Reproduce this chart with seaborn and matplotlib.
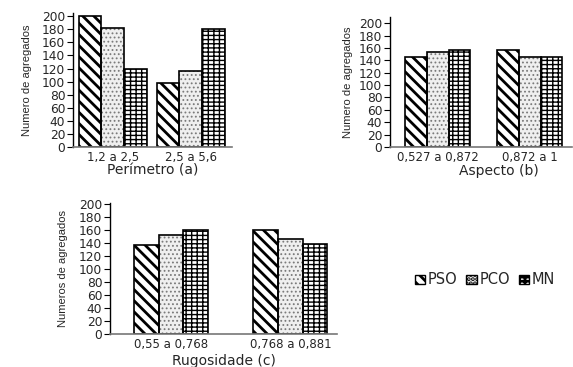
import matplotlib
matplotlib.use("Agg")
import matplotlib.pyplot as plt
import matplotlib.patches as mpatches
import seaborn as sns
import pandas as pd

sns.set_style("white")
plt.rcParams['font.family'] = ['DejaVu Sans']
plt.rcParams['hatch.linewidth'] = 2.0

BS = chr(92)

series = ["PSO", "PCO", "MN"]

cat_a = ["1,2 a 2,5", "2,5 a 5,6"]
pso_a = [200, 98]
pco_a = [182, 117]
mn_a = [119, 180]

cat_b = ["0,527 a 0,872", "0,872 a 1"]
pso_b = [145, 156]
pco_b = [153, 146]
mn_b = [156, 145]

cat_c = ["0,55 a 0,768", "0,768 a 0,881"]
pso_c = [138, 161]
pco_c = [153, 147]
mn_c = [160, 139]

yticks = [0, 20, 40, 60, 80, 100, 120, 140, 160, 180, 200]

W, H = 573, 367
fig = plt.figure(figsize=(W / 100, H / 100), dpi=100)


def px_axes(left, right, bottom, top):
    return fig.add_axes([left / W, (H - bottom) / H, (right - left) / W, (bottom - top) / H])


def make_df(cats, pso, pco, mn):
    rows = []
    for s, vals in zip(series, [pso, pco, mn]):
        for c, v in zip(cats, vals):
            rows.append({"cat": c, "serie": s, "val": v})
    return pd.DataFrame(rows)


hatch_styles = {
    "PSO": dict(face="white", hatch=BS * 3, hcolor="black", hlw=2.0),
    "PCO": dict(face="#efefef", hatch="....", hcolor="#7a7a7a", hlw=0.8),
    "MN": dict(face="white", hatch="+++-", hcolor="black", hlw=1.0),
}


def style_bars(ax):
    for cont, s in zip(ax.containers, series):
        st = hatch_styles[s]
        for bar in cont:
            bar.set_facecolor(st["face"])
            bar.set_hatch(st["hatch"])
            bar.set_edgecolor(st["hcolor"])
            bar.set_linewidth(0)
            if hasattr(bar, "set_hatch_linewidth"):
                bar.set_hatch_linewidth(st["hlw"])
            outline = mpatches.Rectangle((bar.get_x(), bar.get_y()), bar.get_width(), bar.get_height(),
                                         fill=False, edgecolor="black", linewidth=1.2,
                                         zorder=bar.get_zorder() + 0.1)
            ax.add_patch(outline)


def panel(ax, cats, pso, pco, mn, width, xlim, ylim_top, ylabel, xlabel, ylpad):
    df = make_df(cats, pso, pco, mn)
    sns.barplot(data=df, x="cat", y="val", hue="serie", hue_order=series, order=cats,
                width=width, gap=0, ax=ax, legend=False, errorbar=None)
    style_bars(ax)
    ax.set_xlim(*xlim)
    ax.set_ylim(0, ylim_top)
    ax.set_yticks(yticks)
    ax.set_yticklabels([str(t) for t in yticks], fontsize=8.8)
    ax.tick_params(axis="y", length=4, width=0.8, color="black", pad=1.5, left=True)
    ax.tick_params(axis="x", length=0, labelsize=8.5, pad=3)
    for sp in ["top", "right"]:
        ax.spines[sp].set_visible(False)
    ax.spines["left"].set_color("black")
    ax.spines["left"].set_linewidth(1.0)
    ax.spines["bottom"].set_color("#777777")
    ax.spines["bottom"].set_linewidth(1.2)
    ax.set_ylabel(ylabel, fontsize=8, family=["Liberation Sans", "DejaVu Sans"], labelpad=ylpad)
    ax.set_xlabel(xlabel, fontsize=10)
    ax.patch.set_alpha(0)


ax_a = px_axes(73, 232, 147, 13)
panel(ax_a, cat_a, pso_a, pco_a, mn_a, 0.87, (-0.51, 1.53), 205,
      "Numero de agregados", "Perímetro (a)", 7)
ax_a.xaxis.set_label_coords(0.5, -0.125)

ax_b = px_axes(390, 572, 147, 17)
panel(ax_b, cat_b, pso_b, pco_b, mn_b, 0.71, (-0.52, 1.46), 210,
      "Numero de agregados", "Aspecto (b)", 4)
ax_b.xaxis.set_label_coords(0.6, -0.13)

ax_c = px_axes(110, 337, 334, 203)
panel(ax_c, cat_c, pso_c, pco_c, mn_c, 0.62, (-0.51, 1.39), 202,
      "Numeros de agregados", "Rugosidade (c)", 8)
ax_c.xaxis.set_label_coords(0.5, -0.155)

handles = []
for s in series:
    st = hatch_styles[s]
    p = mpatches.Patch(facecolor=st["face"], hatch=st["hatch"], edgecolor="black", linewidth=1.0, label=s)
    handles.append(p)
fig.legend(handles=handles, loc="center", bbox_to_anchor=(485 / W, (H - 280) / H), ncol=3,
           frameon=False, fontsize=10.5, handlelength=0.7, handleheight=0.55,
           handletextpad=0.2, columnspacing=0.6, borderpad=0)

fig.savefig("out.png", dpi=100)
